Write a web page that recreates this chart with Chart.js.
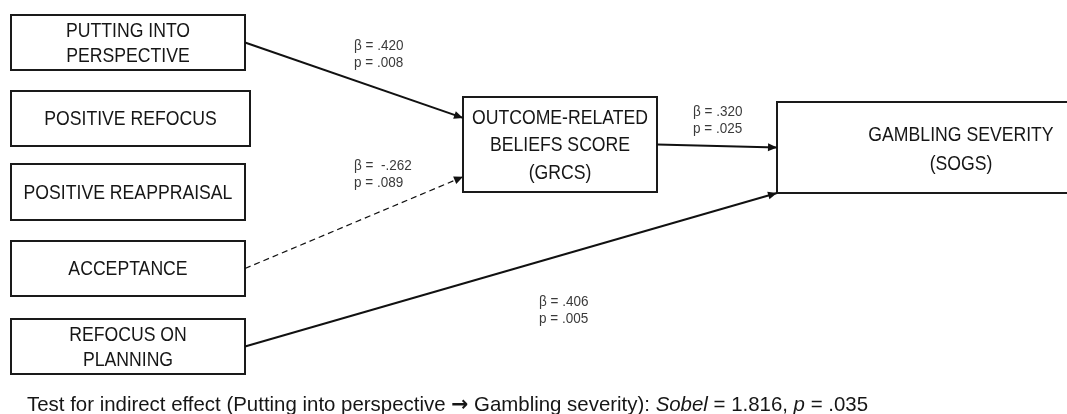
<!DOCTYPE html>
<html>
<head>
<meta charset="utf-8">
<script src="https://cdn.jsdelivr.net/npm/chart.js@4"></script>
<style>
  html, body { margin: 0; padding: 0; background: #fff; }
  #wrap { width: 1067px; height: 414px; position: relative; }
</style>
</head>
<body>
<div id="wrap"><canvas id="diagram"></canvas></div>
<script>
// Daten des Pfadmodells
const predictorLabels = [
  ['PUTTING INTO', 'PERSPECTIVE'],
  ['POSITIVE REFOCUS'],
  ['POSITIVE REAPPRAISAL'],
  ['ACCEPTANCE'],
  ['REFOCUS ON', 'PLANNING']
];
const mediatorLabel = ['OUTCOME-RELATED', 'BELIEFS SCORE', '(GRCS)'];
const outcomeLabel = ['GAMBLING SEVERITY', '(SOGS)'];

// Pfade: von -> nach, Koeffizienten
const pathFrom = ['pred0', 'pred3', 'med', 'pred4'];
const pathTo = ['med', 'med', 'out', 'out'];
const pathBeta = ['.420', ' -.262', '.320', '.406'];
const pathP = ['.008', '.089', '.025', '.005'];
const pathSignificant = [true, false, true, true];

const sobelZ = '1.816';
const sobelP = '.035';

// Layout (Koordinaten in Achseneinheiten, 0..1067 / 0..414)
const boxes = {
  pred0: [11, 15, 245, 70],
  pred1: [11, 91, 250, 146],
  pred2: [11, 164, 245, 220],
  pred3: [11, 241, 245, 296],
  pred4: [11, 319, 245, 374],
  med: [463, 97, 657, 192],
  out: [777, 102, 1145, 193]
};
// wo die Pfeile an der Zielbox ankommen (Anteil der Boxhoehe)
const pathEndFrac = [0.22, 0.84, 0.5, 1.0];
const labelPos = [[354, 46], [354, 166], [693, 112], [539, 302]];
const textCenter = { out: 961 };

function anchorStart(key) {
  const b = boxes[key];
  return { x: b[2], y: (b[1] + b[3]) / 2 };
}
function anchorEnd(key, frac) {
  const b = boxes[key];
  return { x: b[0], y: b[1] + (b[3] - b[1]) * frac };
}

const datasets = pathFrom.map((from, i) => ({
  label: from + '-' + pathTo[i],
  data: [anchorStart(from), anchorEnd(pathTo[i], pathEndFrac[i])],
  showLine: true,
  borderColor: '#111',
  borderWidth: pathSignificant[i] ? 2 : 1.2,
  borderDash: pathSignificant[i] ? [] : [6, 4],
  pointRadius: 0,
  fill: false
}));

function drawText(ctx, str, x, y, font, align, sx, color) {
  ctx.save();
  ctx.translate(x, y);
  ctx.scale(sx, 1);
  ctx.font = font;
  ctx.fillStyle = color;
  ctx.textAlign = align;
  ctx.textBaseline = 'middle';
  ctx.fillText(str, 0, 0);
  ctx.restore();
}

const diagramPlugin = {
  id: 'diagram',
  beforeDatasetsDraw(chart) {
    const ctx = chart.ctx;
    const xs = chart.scales.x, ys = chart.scales.y;
    const boxFont = '21px "Liberation Sans", Arial, sans-serif';
    const allLabels = {
      pred0: predictorLabels[0], pred1: predictorLabels[1], pred2: predictorLabels[2],
      pred3: predictorLabels[3], pred4: predictorLabels[4],
      med: mediatorLabel, out: outcomeLabel
    };
    Object.keys(boxes).forEach(key => {
      const b = boxes[key];
      const x0 = xs.getPixelForValue(b[0]), y0 = ys.getPixelForValue(b[1]);
      const x1 = xs.getPixelForValue(b[2]), y1 = ys.getPixelForValue(b[3]);
      ctx.save();
      ctx.strokeStyle = '#1a1a1a';
      ctx.lineWidth = 2;
      ctx.strokeRect(x0, y0, x1 - x0, y1 - y0);
      ctx.restore();
      const lines = allLabels[key];
      const lh = key === 'med' ? 27.5 : (key === 'out' ? 28.5 : 25.5);
      const cx = textCenter[key] !== undefined ? xs.getPixelForValue(textCenter[key]) : (x0 + x1) / 2;
      const cy = (y0 + y1) / 2 + (key === 'out' ? 2 : 1);
      lines.forEach((ln, j) => {
        const ty = cy + (j - (lines.length - 1) / 2) * lh;
        drawText(ctx, ln, cx, ty, boxFont, 'center', 0.84, '#161616');
      });
    });
  },
  afterDatasetsDraw(chart) {
    const ctx = chart.ctx;
    const xs = chart.scales.x, ys = chart.scales.y;
    // Pfeilspitzen
    chart.data.datasets.forEach(ds => {
      const a = ds.data[0], b = ds.data[1];
      const ax = xs.getPixelForValue(a.x), ay = ys.getPixelForValue(a.y);
      const bx = xs.getPixelForValue(b.x), by = ys.getPixelForValue(b.y);
      const ang = Math.atan2(by - ay, bx - ax);
      const len = 9, hw = 4;
      ctx.save();
      ctx.translate(bx, by);
      ctx.rotate(ang);
      ctx.beginPath();
      ctx.moveTo(0, 0);
      ctx.lineTo(-len, -hw);
      ctx.lineTo(-len, hw);
      ctx.closePath();
      ctx.fillStyle = '#111';
      ctx.fill();
      ctx.restore();
    });
    // Koeffizienten
    const smallFont = '15px "Liberation Sans", Arial, sans-serif';
    pathBeta.forEach((beta, i) => {
      const px = xs.getPixelForValue(labelPos[i][0]);
      const py = ys.getPixelForValue(labelPos[i][1]);
      drawText(ctx, '\u03B2 = ' + beta, px, py, smallFont, 'left', 0.9, '#3a3a3a');
      drawText(ctx, 'p = ' + pathP[i], px, py + 17, smallFont, 'left', 0.9, '#3a3a3a');
    });
    // Sobel-Test Zeile
    const segs = [
      ['Test for indirect effect (Putting into perspective ', '', 'Liberation Sans'],
      ['\u2192', 'bold ', 'DejaVu Sans'],
      [' Gambling severity): ', '', 'Liberation Sans'],
      ['Sobel', 'italic ', 'Liberation Sans'],
      [' = ' + sobelZ + ', ', '', 'Liberation Sans'],
      ['p', 'italic ', 'Liberation Sans'],
      [' = ' + sobelP, '', 'Liberation Sans']
    ];
    const fn = s => s[1] + '21px "' + s[2] + '", sans-serif';
    let total = 0;
    segs.forEach(s => { ctx.font = fn(s); total += ctx.measureText(s[0]).width; });
    const startX = xs.getPixelForValue(27), endX = xs.getPixelForValue(868);
    const sx = (endX - startX) / total;
    const baseY = ys.getPixelForValue(411);
    ctx.save();
    ctx.translate(startX, baseY);
    ctx.scale(sx, 1);
    ctx.fillStyle = '#161616';
    ctx.textBaseline = 'alphabetic';
    ctx.textAlign = 'left';
    let cur = 0;
    segs.forEach(s => {
      ctx.font = fn(s);
      ctx.fillText(s[0], cur, 0);
      cur += ctx.measureText(s[0]).width;
    });
    ctx.restore();
  }
};

new Chart(document.getElementById('diagram').getContext('2d'), {
  type: 'scatter',
  data: { datasets: datasets },
  options: {
    responsive: true,
    maintainAspectRatio: false,
    animation: false,
    layout: { padding: 0 },
    plugins: { legend: { display: false }, tooltip: { enabled: false } },
    scales: {
      x: { type: 'linear', min: 0, max: 1067, display: false },
      y: { type: 'linear', min: 0, max: 414, reverse: true, display: false }
    }
  },
  plugins: [diagramPlugin]
});
</script>
</body>
</html>
